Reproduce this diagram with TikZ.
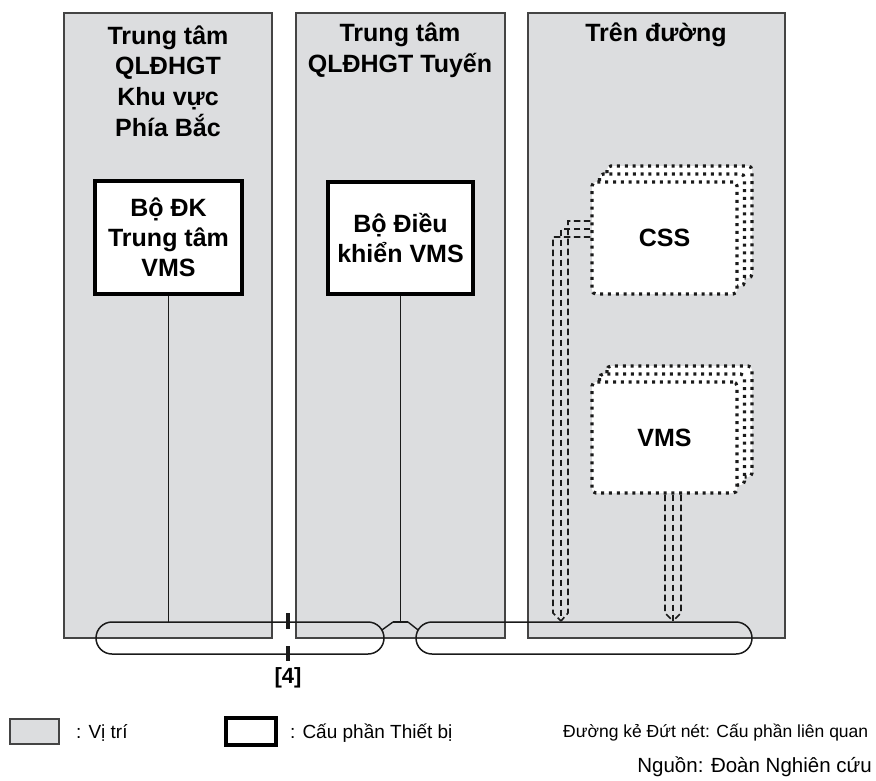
\documentclass[tikz,border=0pt]{standalone}
\usepackage{fontspec}
\setmainfont{Liberation Sans}
\usetikzlibrary{calc}
\definecolor{colgray}{HTML}{DCDDDF}
\definecolor{dk}{HTML}{1A1A1A}
\definecolor{edge}{HTML}{444444}
\begin{document}
\begin{tikzpicture}[x=1pt,y=-1pt,
  colbox/.style={draw=edge, line width=1.4pt, fill=colgray, inner sep=0pt, outer sep=0pt, anchor=north west},
  title/.style={font=\fontsize{25}{30.7}\selectfont\bfseries, align=center},
  devbox/.style={draw=black, line width=4pt, fill=white, font=\fontsize{25}{30}\selectfont\bfseries, align=center, inner sep=0pt},
  dotbox/.style={draw=dk, line width=3.2pt, dash pattern=on 3pt off 4.8pt, fill=white, rounded corners=4pt},
  dotnode/.style={dotbox, font=\fontsize{25}{30}\selectfont\bfseries, inner sep=0pt, minimum width=145pt, minimum height=112pt},
  pipe/.style={draw=dk, line width=1.6pt, dash pattern=on 6.5pt off 3.5pt},
  bus/.style={draw=dk, line width=1.5pt, rounded corners=16pt},
  wire/.style={draw=dk, line width=1.4pt},
  tick/.style={draw=dk, line width=4pt},
  legtxt/.style={font=\fontsize{19}{22}\selectfont, anchor=west, inner sep=0pt},
]
\useasboundingbox (0,0) rectangle (876,780);

% columns
\node[colbox, minimum width=208pt, minimum height=625pt] (c1) at (64,13) {};
\node[colbox, minimum width=209pt, minimum height=625pt] (c2) at (296,13) {};
\node[colbox, minimum width=257pt, minimum height=625pt] (c3) at (528,13) {};

% titles
\node[title] (t1) at (168,81) {Trung tâm\\QLĐHGT\\Khu vực\\Phía Bắc};
\node[title] (t2) at (400,50.5) {Trung tâm\\QLĐHGT Tuyến};
\node[title] (t3) at (656,35) {Trên đường};

% bus
\draw[bus] (96,622) rectangle (384,654);
\draw[bus] (416,622) rectangle (752,654);
\coordinate (busLe) at (384,638);
\coordinate (busRw) at (416,638);
\coordinate (j1) at (393,622);
\coordinate (j2) at (408,622);

% device boxes
\node[devbox, minimum width=147pt, minimum height=113pt] (box1) at (168.5,237.5) {Bộ ĐK\\Trung tâm\\VMS};
\node[devbox, minimum width=145pt, minimum height=112pt] (box2) at (400.5,238) {Bộ Điều\\khiển VMS};

% wires
\draw[wire] (box1.south) -- (box1.south |- j1);
\draw[wire] (box2.south) -- (box2.south |- j1);
\draw[wire] (j1) -- (j2);
\draw[wire] (j1) -- ($(busLe)+(-2.1,-8)$);
\draw[wire] (j2) -- ($(busRw)+(2.1,-8)$);

% ticks and label
\draw[tick] (288,613) -- (288,629);
\draw[tick] (288,646) -- (288,661);
\node[font=\fontsize{22}{22}\selectfont\bfseries] (lbl) at (288,678) {[4]};

% CSS stack
\draw[dotbox] (607,166) rectangle (752,278);
\draw[dotbox] (599.5,174) rectangle (744.5,286);
\node[dotnode] (css) at (664.5,238) {CSS};

% VMS stack
\draw[dotbox] (607,366) rectangle (752,477);
\draw[dotbox] (599.5,374) rectangle (744.5,485);
\node[dotnode, minimum height=111pt] (vms) at (664.5,437.5) {VMS};

% CSS pipes
\coordinate (cssend) at (561,621);
\draw[pipe] ($(css.west)+(0,-17)$) -- (568,221) -- (568,613) -- (cssend);
\draw[pipe] ($(css.west)+(0,-9)$) -- (561,229) -- (cssend);
\draw[pipe] ($(css.west)+(0,-1)$) -- (553,237) -- (553,613) -- (cssend);

% VMS pipes
\coordinate (vmsend) at (673,621);
\draw[pipe] (vms.south -| 665,0) -- (665,613) -- (vmsend);
\draw[pipe] (vms.south -| 673,0) -- (vmsend);
\draw[pipe] (vms.south -| 681,0) -- (681,613) -- (vmsend);

% legend
\node[draw=edge, line width=1.4pt, fill=colgray, minimum width=49pt, minimum height=25pt, inner sep=0pt] (lg1) at (34.5,731.5) {};
\node[legtxt] (lt1) at (76,733) {: Vị trí};
\node[draw=black, line width=4pt, fill=white, minimum width=50pt, minimum height=27pt, inner sep=0pt] (lg2) at (251,731.5) {};
\node[legtxt] (lt2) at (290,733) {: Cấu phần Thiết bị};
\node[font=\fontsize{17.5}{20}\selectfont, anchor=west, inner sep=0pt] (lt3) at (563,733) {Đường kẻ Đứt nét: Cấu phần liên quan};
\node[font=\fontsize{20.5}{22}\selectfont, anchor=east, inner sep=0pt] (src) at (872,767) {Nguồn: Đoàn Nghiên cứu};
\end{tikzpicture}
\end{document}
